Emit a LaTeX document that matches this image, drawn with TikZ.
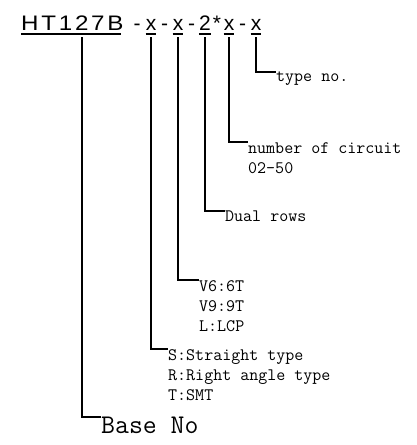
\documentclass[tikz,border=0pt]{standalone}
\usepackage{fontspec}
\newfontfamily\partfont{Liberation Sans}
\newfontfamily\partwide[LetterSpace=13,FakeStretch=1.15]{Liberation Sans}

\tikzset{
  part/.style={inner sep=0pt, anchor=base, font=\partfont\fontsize{21}{24}\selectfont},
  note/.style={inner sep=0pt, anchor=north west, align=left, font=\ttfamily\fontsize{17.5}{20}\selectfont},
  lead/.style={line width=1.2pt},
  uline/.style={line width=1.2pt}
}

\begin{document}
\begin{tikzpicture}[x=1pt,y=1pt]
    % Fix the page to the size of the reference
    \useasboundingbox (0,0) rectangle (417,-445);

    % The part number, each field as its own node
    \node[part, anchor=base west] (base) at (21,-30) {\partwide HT127B};
    \node[part] (d1) at (137,-30) {-};
    \node[part] (xa) at (151,-30) {x};
    \node[part] (d2) at (164.5,-30) {-};
    \node[part] (xb) at (178,-30) {x};
    \node[part] (d3) at (191.5,-30) {-};
    \node[part] (two) at (205,-30) {2};
    \node[part] (star) at (217,-30) {*};
    \node[part] (xc) at (229,-30) {x};
    \node[part] (d4) at (242.5,-30) {-};
    \node[part] (xd) at (256,-30) {x};

    % Underline the fields
    \draw[uline] ([yshift=-4]base.base west) -- ([xshift=-3,yshift=-4]base.base east);
    \foreach \f in {xa,xb,two,xc,xd}
        \draw[uline] ([yshift=-4]\f.base west) -- ([yshift=-4]\f.base east);

    % Notes for each field
    \node[note] (typeno) at (276,-72) {type no.};
    \node[note] (circuit) at (248,-142) {number of circuit\\02-50};
    \node[note] (rows) at (225,-211) {Dual rows};
    \node[note] (pins) at (199,-280) {V6:6T\\V9:9T\\L:LCP};
    \node[note] (angle) at (168,-349) {S:Straight type\\R:Right angle type\\T:SMT};
    \node[note, font=\ttfamily\fontsize{27}{30}\selectfont] (baseno) at (101,-417) {Base No};

    % Leaders from the fields down to their notes
    \draw[lead] ([yshift=-7]xd.base) |- (typeno.north west);
    \draw[lead] ([yshift=-7]xc.base) |- (circuit.north west);
    \draw[lead] ([yshift=-7]two.base) |- (rows.north west);
    \draw[lead] ([yshift=-7]xb.base) |- (pins.north west);
    \draw[lead] ([yshift=-7]xa.base) |- (angle.north west);
    \draw[lead] ([xshift=61,yshift=-7]base.base west) |- (baseno.north west);
\end{tikzpicture}
\end{document}
